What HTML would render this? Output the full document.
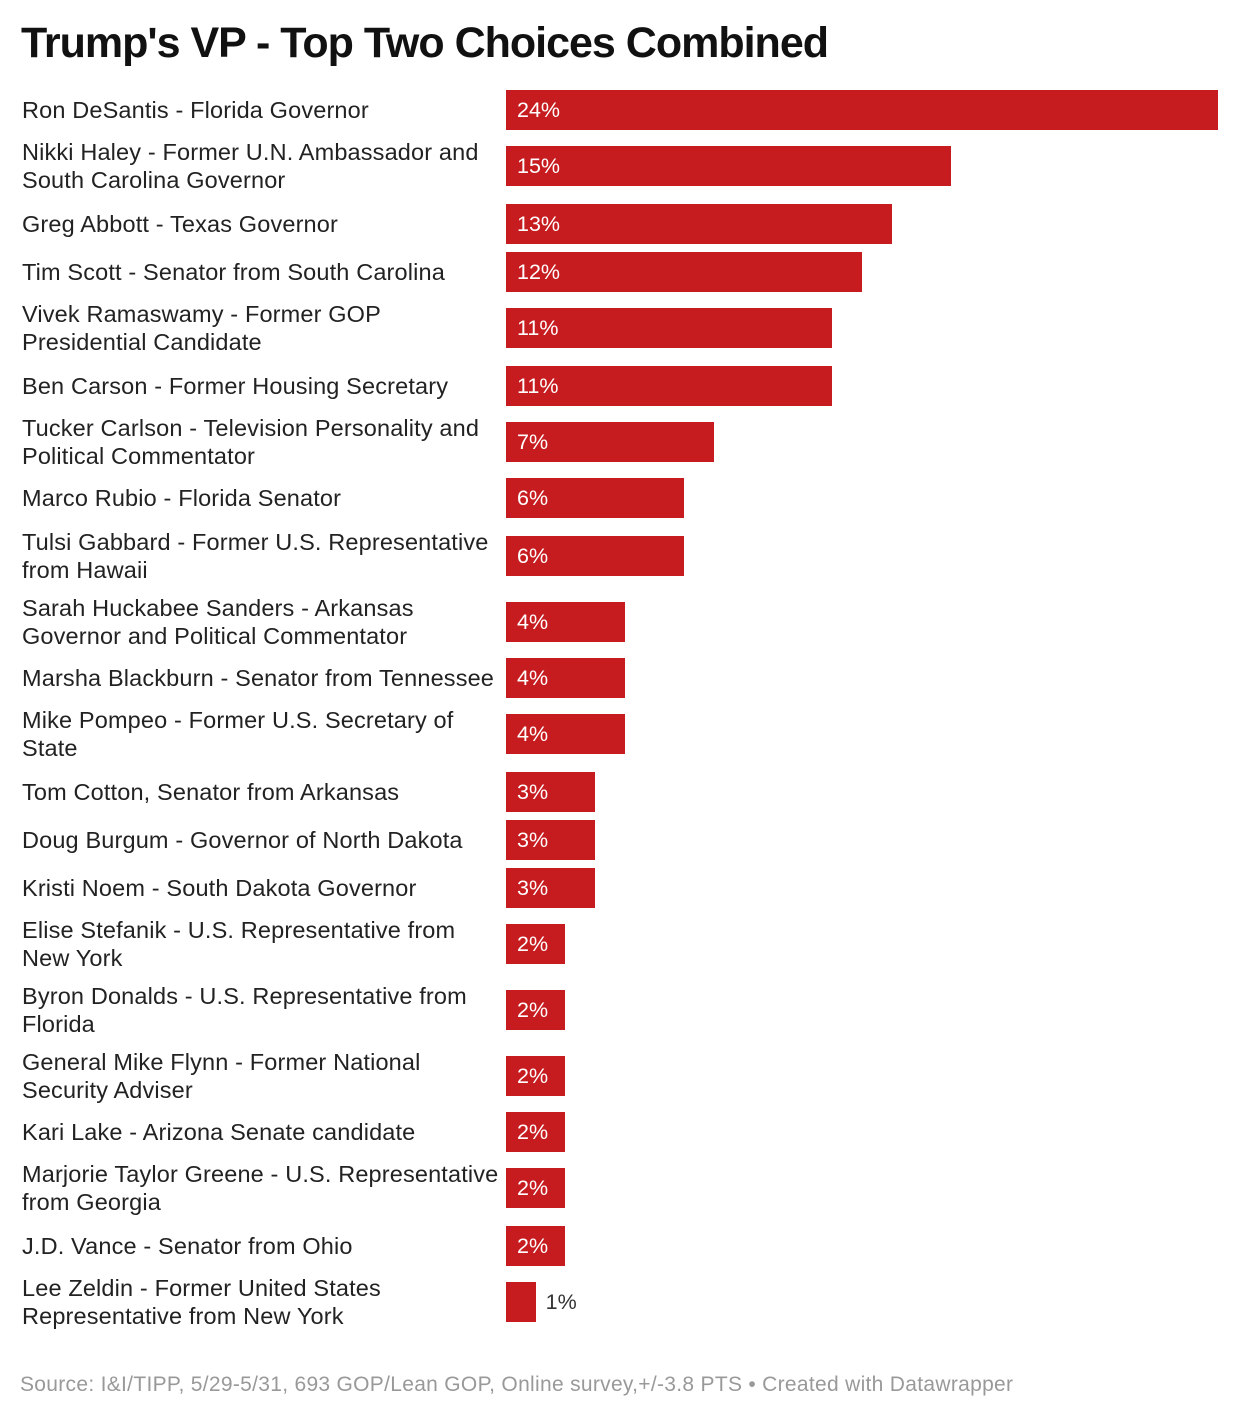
<!DOCTYPE html>
<html><head><meta charset="utf-8"><style>
body{margin:0;background:#fff;width:1240px;height:1418px;position:relative;font-family:"Liberation Sans",sans-serif;overflow:hidden}
#title{position:absolute;left:21px;top:19px;font-size:43px;font-weight:bold;color:#111;letter-spacing:-1px}
.lab{position:absolute;left:22px;width:500px;font-size:23.5px;line-height:28px;color:#222;letter-spacing:0.15px}
.bar{position:absolute;height:40px;background:#c71c1f}
.val{position:absolute;font-size:21.5px;line-height:40px;color:#fff}
#src{position:absolute;left:20px;top:1373px;font-size:21px;color:#999;letter-spacing:0.3px}
</style></head><body>
<div id="title">Trump's VP - Top Two Choices Combined</div>
<div id="chart"></div>
<div id="src">Source: I&amp;I/TIPP, 5/29-5/31, 693 GOP/Lean GOP, Online survey,+/-3.8 PTS • Created with Datawrapper</div>
<script>
const categories=["Ron DeSantis - Florida Governor","Nikki Haley - Former U.N. Ambassador and|South Carolina Governor","Greg Abbott - Texas Governor","Tim Scott - Senator from South Carolina","Vivek Ramaswamy - Former GOP|Presidential Candidate","Ben Carson - Former Housing Secretary","Tucker Carlson - Television Personality and|Political Commentator","Marco Rubio - Florida Senator","Tulsi Gabbard - Former U.S. Representative|from Hawaii","Sarah Huckabee Sanders - Arkansas|Governor and Political Commentator","Marsha Blackburn - Senator from Tennessee","Mike Pompeo - Former U.S. Secretary of|State","Tom Cotton, Senator from Arkansas","Doug Burgum - Governor of North Dakota","Kristi Noem - South Dakota Governor","Elise Stefanik - U.S. Representative from|New York","Byron Donalds - U.S. Representative from|Florida","General Mike Flynn - Former National|Security Adviser","Kari Lake - Arizona Senate candidate","Marjorie Taylor Greene - U.S. Representative|from Georgia","J.D. Vance - Senator from Ohio","Lee Zeldin - Former United States|Representative from New York"];
const values=[24,15,13,12,11,11,7,6,6,4,4,4,3,3,3,2,2,2,2,2,2,1];
// layout: row pitch (px) before each row
const rowGaps=[0,56,58,48,56,58,56,56,58,66,56,56,58,48,48,56,66,66,56,56,58,56];
const x0=506,pxPer=712/24;
const xScale=v=>v*pxPer;
const chart=document.getElementById('chart');
let y=90;
categories.forEach((c,i)=>{
  y+=rowGaps[i];
  const lines=c.split('|');
  const lab=document.createElement('div');lab.className='lab';
  
  
  lab.innerHTML=lines.join('<br>');
  lab.style.top=(y+20-lines.length*14)+'px';
  chart.appendChild(lab);
  const w=xScale(values[i]);
  const b=document.createElement('div');b.className='bar';
  
  
  b.style.left=x0+'px';b.style.top=y+'px';b.style.width=w+'px';
  chart.appendChild(b);
  const v=document.createElement('div');v.className='val';
  
  
  v.textContent=values[i]+'%';v.style.top=y+'px';
  if(w<45){v.style.left=(x0+w+10)+'px';v.style.color='#333';}else v.style.left=(x0+11)+'px';
  chart.appendChild(v);
});
</script>
</body></html>
